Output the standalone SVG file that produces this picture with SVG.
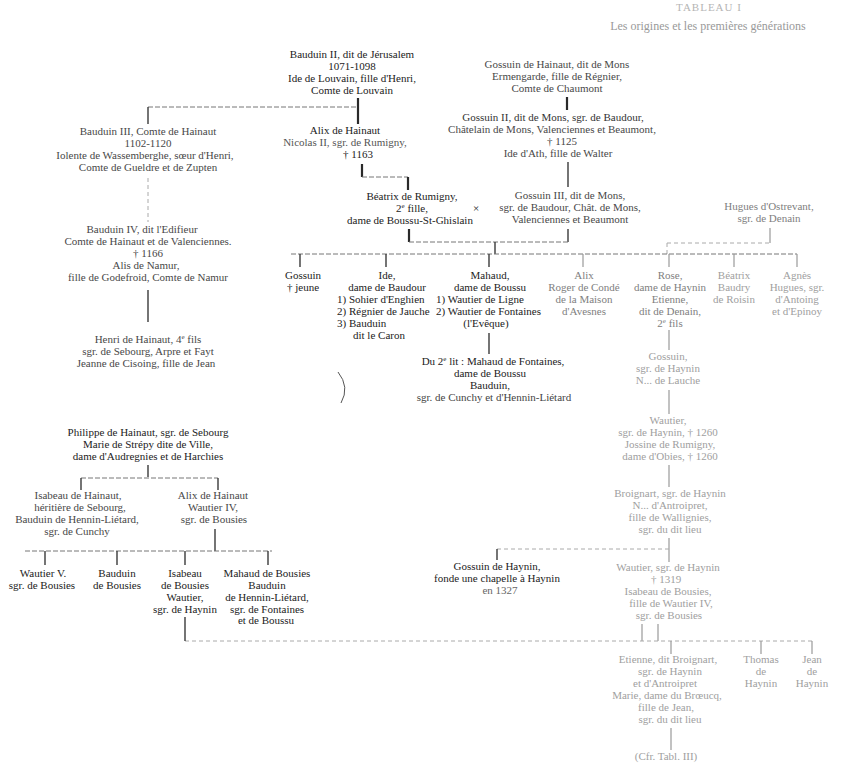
<svg xmlns="http://www.w3.org/2000/svg" width="864" height="768" viewBox="0 0 864 768">
<style>
.t{font-family:"Liberation Serif","Times New Roman",serif;font-size:11px;text-anchor:middle}
.s{text-anchor:start}
.c1{fill:#222}.c2{fill:#484848}.c3{fill:#808080}.c4{fill:#a0a0a0}
.v{stroke:#3a3a3a;stroke-width:1.4;fill:none}
.vb{stroke:#2a2a2a;stroke-width:2.2;fill:none}
.vl{stroke:#999;stroke-width:1.2;fill:none}
.h{stroke:#777;stroke-width:1;stroke-dasharray:5 2;fill:none}
.hl{stroke:#aaa;stroke-width:1;stroke-dasharray:4 3;fill:none}
.sup{font-size:7px}
</style>
<rect width="864" height="768" fill="#ffffff"/>

<g id="title" class="t">
<text x="709" y="11" font-size="11" fill="#b5b5b5" letter-spacing="1">TABLEAU I</text>
<text x="708" y="30" font-size="12" fill="#999">Les origines et les premières générations</text>
</g>

<g id="connectors">
<line class="vb" x1="358" y1="98" x2="358" y2="124"/>
<line class="h" x1="148" y1="107" x2="358" y2="107"/>
<line class="v" x1="148" y1="107" x2="148" y2="124"/>
<line class="vb" x1="567" y1="97" x2="567" y2="110"/>
<line class="v" x1="568" y1="162" x2="568" y2="187"/>
<line class="hl" x1="148" y1="178" x2="148" y2="222"/>
<line class="vb" x1="362" y1="164" x2="362" y2="177"/>
<line class="h" x1="362" y1="177" x2="408" y2="177"/>
<line class="vb" x1="408" y1="177" x2="408" y2="190"/>
<line class="vb" x1="409" y1="229" x2="409" y2="242"/>
<line class="v" x1="568" y1="229" x2="568" y2="242"/>
<line class="h" x1="409" y1="242" x2="568" y2="242"/>
<line class="v" x1="495" y1="242" x2="495" y2="254"/>
<line class="vl" x1="770" y1="228" x2="770" y2="243"/>
<line class="hl" x1="667" y1="243" x2="770" y2="243"/>
<line class="hl" x1="667" y1="243" x2="667" y2="254"/>
<line class="h" x1="291" y1="254" x2="797" y2="254"/>
<line class="v" x1="300" y1="254" x2="300" y2="267"/>
<line class="v" x1="386" y1="254" x2="386" y2="267"/>
<line class="v" x1="489" y1="254" x2="489" y2="267"/>
<line class="vl" x1="583" y1="254" x2="583" y2="267"/>
<line class="vl" x1="669" y1="254" x2="669" y2="267"/>
<line class="vl" x1="734" y1="254" x2="734" y2="267"/>
<line class="vl" x1="797" y1="254" x2="797" y2="267"/>
<line class="v" x1="489" y1="333" x2="489" y2="354"/>
<path d="M338 372 Q350 387 341 403" stroke="#555" stroke-width="1" fill="none"/>
<line class="vl" x1="669" y1="330" x2="669" y2="350"/>
<line class="vl" x1="669" y1="390" x2="669" y2="414"/>
<line class="vl" x1="669" y1="465" x2="669" y2="487"/>
<line class="vl" x1="669" y1="538" x2="669" y2="562"/>
<line class="hl" x1="497" y1="549" x2="669" y2="549"/>
<line class="v" x1="497" y1="549" x2="497" y2="560"/>
<line class="vl" x1="642" y1="624" x2="642" y2="641"/>
<line class="vl" x1="658" y1="624" x2="658" y2="641"/>
<line class="hl" x1="185" y1="641" x2="815" y2="641"/>
<line class="v" x1="185" y1="617" x2="185" y2="641"/>
<line class="vl" x1="671" y1="641" x2="671" y2="654"/>
<line class="vl" x1="761" y1="641" x2="761" y2="654"/>
<line class="vl" x1="812" y1="641" x2="812" y2="654"/>
<line class="vl" x1="671" y1="728" x2="671" y2="750"/>
<line class="v" x1="148" y1="290" x2="148" y2="322"/>
<line class="v" x1="148" y1="465" x2="148" y2="477"/>
<line class="h" x1="81" y1="478" x2="218" y2="478"/>
<line class="v" x1="81" y1="478" x2="81" y2="490"/>
<line class="v" x1="218" y1="478" x2="218" y2="490"/>
<line class="v" x1="215" y1="529" x2="215" y2="551"/>
<line class="h" x1="25" y1="551" x2="272" y2="551"/>
<line class="v" x1="45" y1="551" x2="45" y2="565"/>
<line class="v" x1="117" y1="551" x2="117" y2="565"/>
<line class="v" x1="185" y1="551" x2="185" y2="565"/>
<line class="v" x1="268" y1="551" x2="268" y2="565"/>
</g>

<g id="bauduin2" class="t c1">
<text x="352" y="58">Bauduin II, dit de Jérusalem</text>
<text x="352" y="70">1071-1098</text>
<text x="352" y="82">Ide de Louvain, fille d'Henri,</text>
<text x="352" y="94">Comte de Louvain</text>
</g>

<g id="gossuin1" class="t c2">
<text x="557" y="68">Gossuin de Hainaut, dit de Mons</text>
<text x="557" y="80">Ermengarde, fille de Régnier,</text>
<text x="557" y="92">Comte de Chaumont</text>
</g>

<g id="gossuin2" class="t c2">
<text x="553" y="121" fill="#333">Gossuin II, dit de Mons, sgr. de Baudour,</text>
<text x="552" y="133">Châtelain de Mons, Valenciennes et Beaumont,</text>
<text x="562" y="145">† 1125</text>
<text x="558" y="157">Ide d'Ath, fille de Walter</text>
</g>

<g id="bauduin3" class="t c2">
<text x="148" y="135">Bauduin III, Comte de Hainaut</text>
<text x="148" y="147">1102-1120</text>
<text x="145" y="159">Iolente de Wassemberghe, sœur d'Henri,</text>
<text x="148" y="171">Comte de Gueldre et de Zupten</text>
</g>

<g id="alix1" class="t c1">
<text x="345" y="134">Alix de Hainaut</text>
<text x="345" y="146" fill="#555">Nicolas II, sgr. de Rumigny,</text>
<text x="358" y="158">† 1163</text>
</g>

<g id="beatrix" class="t c1">
<text x="412" y="200">Béatrix de Rumigny,</text>
<text x="412" y="212">2<tspan class="sup" baseline-shift="super">e</tspan> fille,</text>
<text x="410" y="224">dame de Boussu-St-Ghislain</text>
<text x="476" y="212">×</text>
</g>

<g id="gossuin3" class="t c2">
<text x="570" y="199">Gossuin III, dit de Mons,</text>
<text x="570" y="211">sgr. de Baudour, Chât. de Mons,</text>
<text x="570" y="223">Valenciennes et Beaumont</text>
</g>

<g id="hugues" class="t c3">
<text x="769" y="210">Hugues d'Ostrevant,</text>
<text x="769" y="222">sgr. de Denain</text>
</g>

<g id="gossuin_c" class="t c1">
<text x="303" y="279">Gossuin</text>
<text x="303" y="291">† jeune</text>
</g>

<g id="ide" class="t c1">
<text x="387" y="279">Ide,</text>
<text x="387" y="291">dame de Baudour</text>
<text class="s" x="337" y="303">1) Sohier d'Enghien</text>
<text class="s" x="337" y="315">2) Régnier de Jauche</text>
<text class="s" x="337" y="327">3) Bauduin</text>
<text class="s" x="353" y="339">dit le Caron</text>
</g>

<g id="mahaud" class="t c1">
<text x="490" y="279">Mahaud,</text>
<text x="490" y="291">dame de Boussu</text>
<text class="s" x="436" y="303">1) Wautier de Ligne</text>
<text class="s" x="436" y="315">2) Wautier de Fontaines</text>
<text x="486" y="327">(l'Evêque)</text>
</g>

<g id="alix_c" class="t c3">
<text x="584" y="279">Alix</text>
<text x="584" y="291">Roger de Condé</text>
<text x="584" y="303">de la Maison</text>
<text x="584" y="315">d'Avesnes</text>
</g>

<g id="rose" class="t c3">
<text x="670" y="279">Rose,</text>
<text x="670" y="291">dame de Haynin</text>
<text x="670" y="303">Etienne,</text>
<text x="670" y="315">dit de Denain,</text>
<text x="670" y="327">2<tspan class="sup" baseline-shift="super">e</tspan> fils</text>
</g>

<g id="beatrix_c" class="t c4">
<text x="734" y="279">Béatrix</text>
<text x="734" y="291">Baudry</text>
<text x="734" y="303">de Roisin</text>
</g>

<g id="agnes" class="t c4">
<text x="797" y="279">Agnès</text>
<text x="797" y="291">Hugues, sgr.</text>
<text x="797" y="303">d'Antoing</text>
<text x="797" y="315">et d'Epinoy</text>
</g>

<g id="du2lit" class="t c1">
<text x="493" y="365">Du 2<tspan class="sup" baseline-shift="super">e</tspan> lit : Mahaud de Fontaines,</text>
<text x="490" y="377">dame de Boussu</text>
<text x="490" y="389">Bauduin,</text>
<text x="494" y="401" fill="#444">sgr. de Cunchy et d'Hennin-Liétard</text>
</g>

<g id="gossuin_h" class="t c4">
<text x="668" y="360">Gossuin,</text>
<text x="668" y="372">sgr. de Haynin</text>
<text x="668" y="384">N... de Lauche</text>
</g>

<g id="wautier1260" class="t c4">
<text x="668" y="424">Wautier,</text>
<text x="668" y="436">sgr. de Haynin, † 1260</text>
<text x="670" y="448">Jossine de Rumigny,</text>
<text x="670" y="460">dame d'Obies, † 1260</text>
</g>

<g id="broignart" class="t c4">
<text x="670" y="497">Broignart, sgr. de Haynin</text>
<text x="670" y="509">N... d'Antroipret,</text>
<text x="670" y="521">fille de Wallignies,</text>
<text x="670" y="533">sgr. du dit lieu</text>
</g>

<g id="gossuin_haynin" class="t c1">
<text x="497" y="570">Gossuin de Haynin,</text>
<text x="497" y="582">fonde une chapelle à Haynin</text>
<text x="500" y="594" fill="#666">en 1327</text>
</g>

<g id="wautier1319" class="t c4">
<text x="668" y="571">Wautier, sgr. de Haynin</text>
<text x="666" y="583">† 1319</text>
<text x="668" y="595">Isabeau de Bousies,</text>
<text x="671" y="607">fille de Wautier IV,</text>
<text x="669" y="619">sgr. de Bousies</text>
</g>

<g id="etienne" class="t c4">
<text x="668" y="663">Etienne, dit Broignart,</text>
<text x="670" y="675">sgr. de Haynin</text>
<text x="665" y="687">et d'Antroipret</text>
<text x="667" y="699">Marie, dame du Brœucq,</text>
<text x="666" y="711">fille de Jean,</text>
<text x="670" y="723">sgr. du dit lieu</text>
<text x="666" y="760">(Cfr. Tabl. III)</text>
</g>

<g id="thomas" class="t c4">
<text x="761" y="663">Thomas</text>
<text x="761" y="675">de</text>
<text x="761" y="687">Haynin</text>
</g>

<g id="jean" class="t c4">
<text x="812" y="663">Jean</text>
<text x="812" y="675">de</text>
<text x="812" y="687">Haynin</text>
</g>

<g id="bauduin4" class="t c2">
<text x="142" y="233">Bauduin IV, dit l'Edifieur</text>
<text x="148" y="245">Comte de Hainaut et de Valenciennes.</text>
<text x="148" y="257">† 1166</text>
<text x="146" y="269">Alis de Namur,</text>
<text x="148" y="281">fille de Godefroid, Comte de Namur</text>
</g>

<g id="henri" class="t c2">
<text x="148" y="343">Henri de Hainaut, 4<tspan class="sup" baseline-shift="super">e</tspan> fils</text>
<text x="148" y="355">sgr. de Sebourg, Arpre et Fayt</text>
<text x="146" y="367">Jeanne de Cisoing, fille de Jean</text>
</g>

<g id="philippe" class="t c1">
<text x="148" y="436">Philippe de Hainaut, sgr. de Sebourg</text>
<text x="148" y="448">Marie de Strépy dite de Ville,</text>
<text x="148" y="460">dame d'Audregnies et de Harchies</text>
</g>

<g id="isabeau_h" class="t c2">
<text x="78" y="499">Isabeau de Hainaut,</text>
<text x="80" y="511">héritière de Sebourg,</text>
<text x="77" y="523">Bauduin de Hennin-Liétard,</text>
<text x="77" y="535">sgr. de Cunchy</text>
</g>

<g id="alix_h" class="t c2">
<text x="213" y="499">Alix de Hainaut</text>
<text x="213" y="511">Wautier IV,</text>
<text x="214" y="523">sgr. de Bousies</text>
</g>

<g id="wautier5" class="t c1">
<text x="43" y="577">Wautier V.</text>
<text x="42" y="589">sgr. de Bousies</text>
</g>

<g id="bauduin_b" class="t c1">
<text x="117" y="577">Bauduin</text>
<text x="117" y="589">de Bousies</text>
</g>

<g id="isabeau_b" class="t c1">
<text x="185" y="577">Isabeau</text>
<text x="185" y="589">de Bousies</text>
<text x="185" y="601">Wautier,</text>
<text x="185" y="613">sgr. de Haynin</text>
</g>

<g id="mahaud_b" class="t c1">
<text x="267" y="577">Mahaud de Bousies</text>
<text x="267" y="589">Bauduin</text>
<text x="267" y="601">de Hennin-Liétard,</text>
<text x="267" y="613">sgr. de Fontaines</text>
<text x="266" y="624">et de Boussu</text>
</g>
</svg>
